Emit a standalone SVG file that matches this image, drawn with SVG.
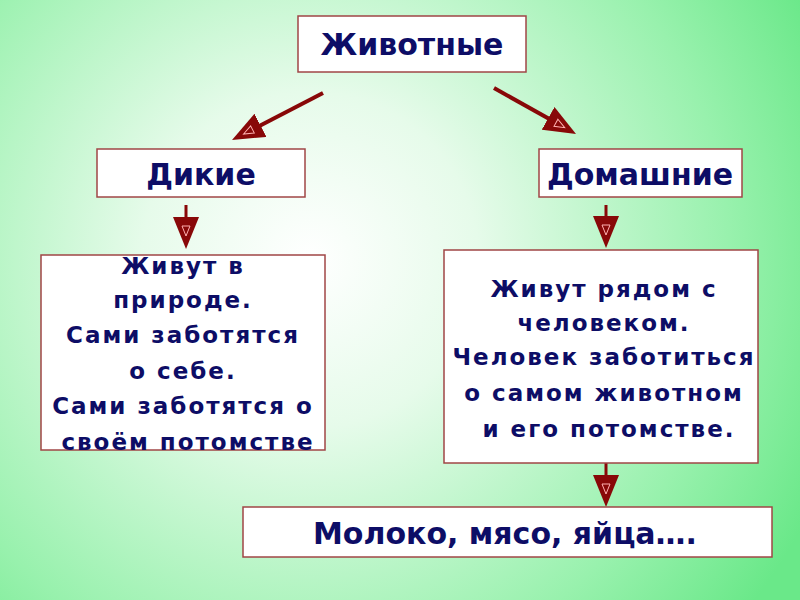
<svg xmlns="http://www.w3.org/2000/svg" width="800" height="600" viewBox="0 0 800 600">
<defs>
<radialGradient id="bg" cx="310" cy="260" r="560" gradientUnits="userSpaceOnUse">
<stop offset="0" stop-color="#ffffff"/>
<stop offset="0.3" stop-color="#e6fbea"/>
<stop offset="0.75" stop-color="#98f1ad"/>
<stop offset="1" stop-color="#6ae889"/>
</radialGradient>
<marker id="ah" viewBox="0 0 32 26" refX="22" refY="13" markerWidth="32" markerHeight="26" markerUnits="userSpaceOnUse" orient="auto">
<path d="M0,0 L32,13 L0,26 Z" fill="#880808"/>
<path d="M9,9 L19,13 L9,17 Z" fill="none" stroke="#ffb0b0" stroke-width="1"/>
</marker>
<style>
.box{fill:#ffffff;stroke:#a04646;stroke-width:1.5}
.t{font-family:"DejaVu Sans","Liberation Sans",sans-serif;font-weight:bold;fill:#0d0d66;text-anchor:middle}
.h{font-size:30px}
.b{font-size:23px;letter-spacing:2px}
.c{stroke:#880808;fill:none;marker-end:url(#ah)}
</style>
</defs>
<rect width="800" height="600" fill="url(#bg)"/>
<g id="connectors">
<path class="c" stroke-width="4" d="M323,93 L240.9,135.4"/>
<path class="c" stroke-width="4" d="M494,88 L567.3,129.1"/>
<path class="c" stroke-width="3" d="M186,205 L186,239"/>
<path class="c" stroke-width="3" d="M606,205 L606,238"/>
<path class="c" stroke-width="3" d="M606,463 L606,497"/>
</g>
<g id="node-animals">
<rect class="box" x="298" y="16" width="228" height="56"/>
<text class="t h" x="412" y="55">Животные</text>
</g>
<g id="node-wild">
<rect class="box" x="97" y="149" width="208" height="48"/>
<text class="t h" x="201" y="185">Дикие</text>
</g>
<g id="node-domestic">
<rect class="box" x="539" y="149" width="203" height="48"/>
<text class="t h" x="640" y="185">Домашние</text>
</g>
<g id="node-wild-desc">
<rect class="box" x="41" y="255" width="284" height="195"/>
<text class="t b" x="188">
<tspan x="188" y="274">Живут в</tspan>
<tspan x="188" y="308">природе.</tspan>
<tspan x="188" y="343">Сами заботятся</tspan>
<tspan x="188" y="379">о себе.</tspan>
<tspan x="188" y="414">Сами заботятся о</tspan>
<tspan x="188" y="450">своём потомстве</tspan>
</text>
</g>
<g id="node-domestic-desc">
<rect class="box" x="444" y="250" width="314" height="213"/>
<text class="t b" x="609">
<tspan x="609" y="297">Живут рядом с</tspan>
<tspan x="609" y="331">человеком.</tspan>
<tspan x="609" y="365">Человек заботиться</tspan>
<tspan x="609" y="401">о самом животном</tspan>
<tspan x="609" y="437">и его потомстве.</tspan>
</text>
</g>
<g id="node-products">
<rect class="box" x="243" y="507" width="529" height="50"/>
<text class="t h" x="505" y="544">Молоко, мясо, яйца….</text>
</g>
</svg>
